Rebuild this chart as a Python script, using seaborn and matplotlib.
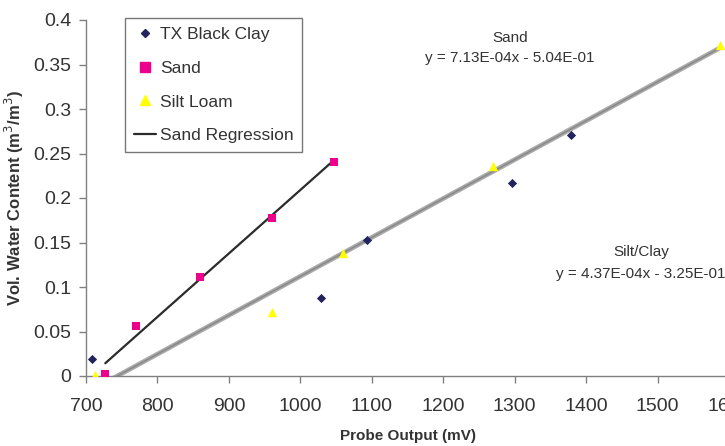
import numpy as np
import pandas as pd
import matplotlib
matplotlib.use("Agg")
import matplotlib.pyplot as plt
from matplotlib.lines import Line2D
import seaborn as sns

# Datos
clay_x = [708, 1029, 1094, 1296, 1379]
clay_y = [0.019, 0.088, 0.153, 0.217, 0.271]
sand_x = [727, 770, 860, 960, 1047]
sand_y = [0.002, 0.056, 0.111, 0.178, 0.240]
silt_x = [713, 961, 1060, 1270, 1587]
silt_y = [0.001, 0.072, 0.138, 0.236, 0.372]

sand_fit = (7.13e-4, -5.04e-1)
siltclay_fit = (4.37e-4, -3.25e-1)

x_ticks = [700, 800, 900, 1000, 1100, 1200, 1300, 1400, 1500, 1600]
y_ticks = [0, 0.05, 0.1, 0.15, 0.2, 0.25, 0.3, 0.35, 0.4]
y_labels = ["0", "0.05", "0.1", "0.15", "0.2", "0.25", "0.3", "0.35", "0.4"]

sns.set_style("ticks")
plt.rcParams["font.family"] = ["Liberation Sans", "DejaVu Sans"]

c_clay = "#23235e"
c_sand = "#ec008c"
c_silt = "#ffff00"
c_text = "#333333"

fig = plt.figure(figsize=(7.25, 4.46), dpi=100)
ax = fig.add_axes([86 / 725, 70 / 446, 643 / 725, 356 / 446])

# lineas de regresion
sx = np.array([sand_x[0], sand_x[-1]])
df_sand_fit = pd.DataFrame({"x": sx, "y": sand_fit[0] * sx + sand_fit[1]})
gx = np.array([min(clay_x + silt_x), max(clay_x + silt_x)])
df_sc_fit = pd.DataFrame({"x": gx, "y": siltclay_fit[0] * gx + siltclay_fit[1]})

sns.lineplot(data=df_sc_fit, x="x", y="y", ax=ax, color="#ababab", linewidth=3.4)
sns.lineplot(data=df_sc_fit, x="x", y="y", ax=ax, color="#8a8a8a", linewidth=1.2)
sns.lineplot(data=df_sand_fit, x="x", y="y", ax=ax, color="#2b2b2b", linewidth=1.6)

# puntos
sns.scatterplot(x=clay_x, y=clay_y, ax=ax, marker="D", s=22, color=c_clay, linewidth=0, zorder=5)
sns.scatterplot(x=sand_x, y=sand_y, ax=ax, marker="s", s=40, color=c_sand, linewidth=0, zorder=5)
sns.scatterplot(x=silt_x, y=silt_y, ax=ax, marker="^", s=45, color=c_silt, linewidth=0, zorder=5)

ax.set_xlim(700, 1600)
ax.set_ylim(0, 0.4)
ax.set_xticks(x_ticks)
ax.set_yticks(y_ticks)
ax.set_yticklabels(y_labels)
ax.tick_params(labelsize=14, colors="#808080", labelcolor=c_text, length=5, width=1)
ax.tick_params(axis="x", pad=11)
ax.tick_params(axis="y", pad=5.5)
for s in ["top", "right"]:
    ax.spines[s].set_visible(False)
for s in ["left", "bottom"]:
    ax.spines[s].set_color("#808080")
    ax.spines[s].set_linewidth(1)

ax.set_xlabel("Probe Output (mV)", fontsize=11, fontweight="bold", color=c_text, labelpad=10)
ax.set_ylabel("Vol. Water Content (m$^3$/m$^3$)", fontsize=12, fontweight="bold", color=c_text, labelpad=5)

# ecuaciones
fig.text(510 / 725, 1 - 48 / 446, "Sand\ny = 7.13E-04x - 5.04E-01", fontsize=11, color=c_text,
         ha="center", va="center", linespacing=1.55)
fig.text(641 / 725, 1 - 263 / 446, "Silt/Clay\ny = 4.37E-04x - 3.25E-01", fontsize=11, color=c_text,
         ha="center", va="center", linespacing=1.65)

handles = [
    Line2D([], [], marker="D", color=c_clay, linestyle="none", markersize=4.5),
    Line2D([], [], marker="s", color=c_sand, linestyle="none", markersize=6.5),
    Line2D([], [], marker="^", color=c_silt, linestyle="none", markersize=7),
    Line2D([], [], color="#2b2b2b", linewidth=1.6),
]
labels = ["TX Black Clay", "Sand", "Silt Loam", "Sand Regression"]
leg = ax.legend(handles, labels, loc="upper left", bbox_to_anchor=(0.0607, 1.006),
                borderaxespad=0, fontsize=12.5, frameon=True, fancybox=False, edgecolor="#555555",
                handlelength=1.3, handletextpad=0.2, labelspacing=1.08, borderpad=0.5)
leg.get_frame().set_linewidth(1)
for t in leg.get_texts():
    t.set_color(c_text)

fig.savefig("out.png", dpi=100)
